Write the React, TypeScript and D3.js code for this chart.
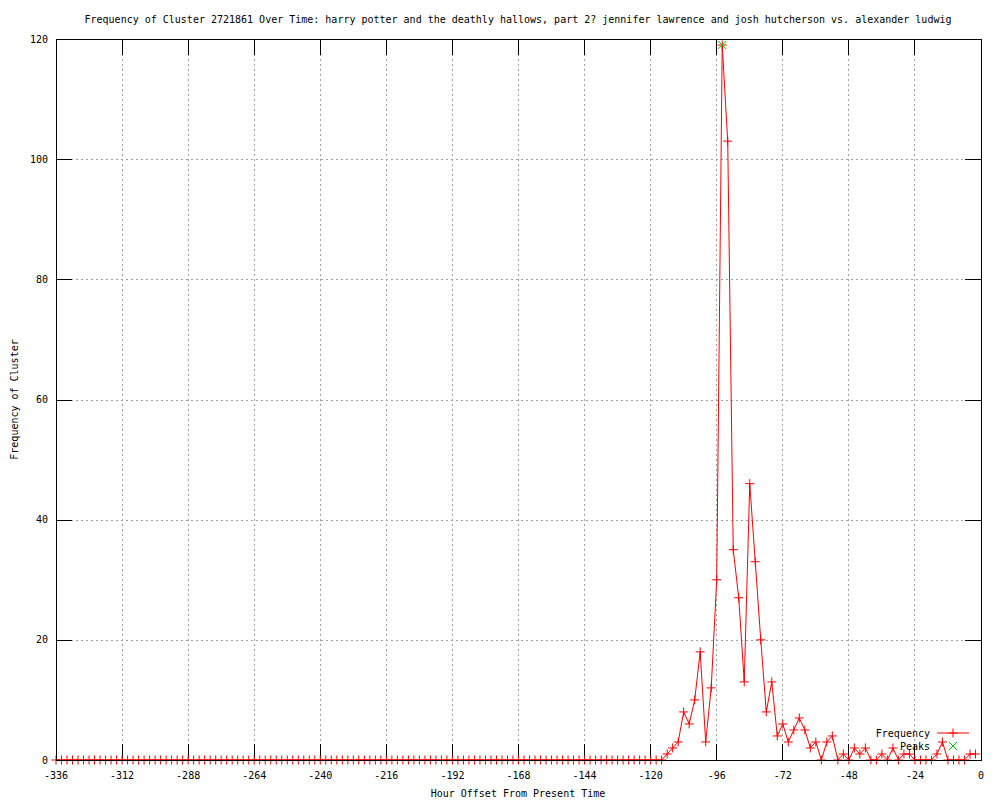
import React from 'react';
import * as d3 from 'd3';

// hourly offsets, every 2 hours from -336 to -2
const startHour = -336;
const stepHours = 2;

const frequency = [
  0, 0, 0, 0, 0, 0, 0, 0, 0, 0, 0, 0, 0, 0, 0, 0, 0, 0, 0, 0,
  0, 0, 0, 0, 0, 0, 0, 0, 0, 0, 0, 0, 0, 0, 0, 0, 0, 0, 0, 0,
  0, 0, 0, 0, 0, 0, 0, 0, 0, 0, 0, 0, 0, 0, 0, 0, 0, 0, 0, 0,
  0, 0, 0, 0, 0, 0, 0, 0, 0, 0, 0, 0, 0, 0, 0, 0, 0, 0, 0, 0,
  0, 0, 0, 0, 0, 0, 0, 0, 0, 0, 0, 0, 0, 0, 0, 0, 0, 0, 0, 0,
  0, 0, 0, 0, 0, 0, 0, 0, 0, 0, 0,
  1, 2, 3, 8, 6, 10, 18, 3, 12, 30, 119, 103, 35, 27, 13, 46, 33, 20, 8, 13,
  4, 6, 3, 5, 7, 5, 2, 3, 0, 3, 4, 0, 1, 0, 2, 1, 2, 0, 0, 1,
  0, 2, 0, 1, 1, 0, 0, 0, 0, 1, 3, 0, 0, 0, 0, 1, 1,
];

const peaks = [{ hour: -94, value: 119 }];

const xTicks = [-336, -312, -288, -264, -240, -216, -192, -168, -144, -120, -96, -72, -48, -24, 0];
const yTicks = [0, 20, 40, 60, 80, 100, 120];

const title =
  'Frequency of Cluster 2721861 Over Time: harry potter and the deathly hallows, part 2? jennifer lawrence and josh hutcherson vs. alexander ludwig';

const W = 1000;
const H = 800;
const margin = { top: 39, right: 19, bottom: 40, left: 56 };
const font = '"DejaVu Sans Mono", monospace';

const Plus = ({ x, y, color }: { x: number; y: number; color: string }) => (
  <path d={`M${x - 4.5},${y}H${x + 4.5}M${x},${y - 4.5}V${y + 4.5}`} stroke={color} strokeWidth={1} fill="none" />
);

const Cross = ({ x, y, color }: { x: number; y: number; color: string }) => (
  <path d={`M${x - 4},${y - 4}L${x + 4},${y + 4}M${x - 4},${y + 4}L${x + 4},${y - 4}`} stroke={color} strokeWidth={1} fill="none" />
);

export default function App() {
  const x = d3.scaleLinear().domain([-336, 0]).range([margin.left, W - margin.right]);
  const y = d3.scaleLinear().domain([0, 120]).range([H - margin.bottom, margin.top]);

  const data = frequency.map((v, i) => ({ hour: startHour + i * stepHours, value: v }));
  const line = d3
    .line<{ hour: number; value: number }>()
    .x(d => x(d.hour))
    .y(d => y(d.value));

  const [x0, x1] = x.range();
  const [y0, y1] = y.range();
  const tickLen = 16;

  return (
    <svg width={W} height={H} style={{ position: 'absolute', left: 0, top: 0, background: '#fff' }} fontFamily={font} fontSize={10}>
      <rect width={W} height={H} fill="#fff" />
      {/* grid */}
      <g stroke="#a0a0a0" strokeDasharray="2,3" shapeRendering="crispEdges">
        {xTicks.slice(1, -1).map(t => (
          <line key={'gx' + t} x1={x(t)} x2={x(t)} y1={y1} y2={y0} />
        ))}
        {yTicks.slice(1, -1).map(t => (
          <line key={'gy' + t} x1={x0} x2={x1} y1={y(t) + 0.5} y2={y(t) + 0.5} />
        ))}
      </g>
      {/* ticks */}
      <g stroke="#000" shapeRendering="crispEdges">
        {xTicks.map(t => (
          <g key={'tx' + t}>
            <line x1={x(t)} x2={x(t)} y1={y0} y2={y0 - tickLen} />
            <line x1={x(t)} x2={x(t)} y1={y1} y2={y1 + tickLen} />
          </g>
        ))}
        {yTicks.map(t => (
          <g key={'ty' + t}>
            <line x1={x0} x2={x0 + tickLen} y1={y(t) + 0.5} y2={y(t) + 0.5} />
            <line x1={x1} x2={x1 - tickLen} y1={y(t) + 0.5} y2={y(t) + 0.5} />
          </g>
        ))}
      </g>
      {/* tick labels */}
      {xTicks.map(t => (
        <text key={'lx' + t} x={x(t)} y={y0 + 15} dy="0.35em" textAnchor="middle">
          {String(t)}
        </text>
      ))}
      {yTicks.map(t => (
        <text key={'ly' + t} x={x0 - 8} y={y(t)} dy="0.35em" textAnchor="end">
          {t}
        </text>
      ))}
      {/* series */}
      <path d={line(data) || ''} fill="none" stroke="#ff0000" strokeWidth={1} />
      {data.map(d => (
        <Plus key={'p' + d.hour} x={x(d.hour)} y={y(d.value)} color="#ff0000" />
      ))}
      {peaks.map(p => (
        <Cross key={'pk' + p.hour} x={x(p.hour)} y={y(p.value)} color="#00c000" />
      ))}
      {/* frame */}
      <rect x={x0 + 0.5} y={y1 + 0.5} width={x1 - x0} height={y0 - y1} fill="none" stroke="#000" shapeRendering="crispEdges" />
      {/* legend */}
      <g>
        <text x={930} y={733} dy="0.35em" textAnchor="end">Frequency</text>
        <line x1={937} x2={969} y1={733} y2={733} stroke="#ff0000" />
        <Plus x={953} y={733} color="#ff0000" />
        <text x={930} y={746} dy="0.35em" textAnchor="end">Peaks</text>
        <Cross x={953} y={746} color="#00c000" />
      </g>
      {/* titles */}
      <text x={518} y={19} dy="0.35em" textAnchor="middle">{title}</text>
      <text x={518} y={793} dy="0.35em" textAnchor="middle">Hour Offset From Present Time</text>
      <text transform={`translate(14,${(y0 + y1) / 2}) rotate(-90)`} dy="0.35em" textAnchor="middle">
        Frequency of Cluster
      </text>
    </svg>
  );
}
